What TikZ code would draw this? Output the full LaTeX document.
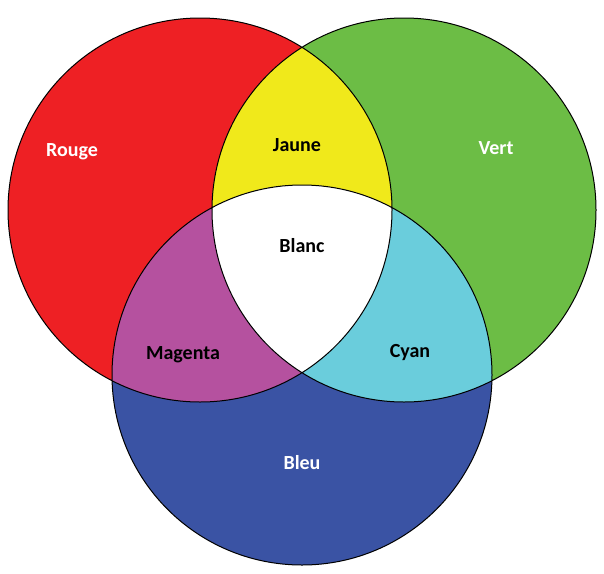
\documentclass[tikz,border=0pt]{standalone}
\usepackage{fontspec}
\setmainfont{Carlito}
\definecolor{colR}{HTML}{EE2024}
\definecolor{colG}{HTML}{6CBD45}
\definecolor{colB}{HTML}{3A53A4}
\definecolor{colY}{HTML}{F0E91B}
\definecolor{colM}{HTML}{B5519F}
\definecolor{colC}{HTML}{6ACDDC}
\begin{document}
\begin{tikzpicture}[x=1pt,y=-1pt,lab/.style={font=\bfseries\fontsize{20}{24}\selectfont}]
\useasboundingbox (0,0) rectangle (604,573);
\def\R{(200,210) circle (192)}
\def\G{(404,210) circle (192)}
\def\B{(302,375) circle (190)}
\fill[colR] \R; \fill[colG] \G; \fill[colB] \B;
\begin{scope}\clip \R; \fill[colY] \G; \fill[colM] \B; \end{scope}
\begin{scope}\clip \G; \fill[colC] \B; \end{scope}
\begin{scope}\clip \R; \clip \G; \fill[white] \B; \end{scope}
\draw[line width=1pt] \R \G \B;
\node[lab,white] (rouge) at (72,152) {Rouge};
\node[lab,white] (vert) at (496,148) {Vert};
\node[lab,white] (bleu) at (302,463) {Bleu};
\node[lab] (jaune) at (297,145) {Jaune};
\node[lab] (blanc) at (302,246) {Blanc};
\node[lab] (magenta) at (183,355) {Magenta};
\node[lab] (cyan) at (410,353) {Cyan};
\end{tikzpicture}
\end{document}
